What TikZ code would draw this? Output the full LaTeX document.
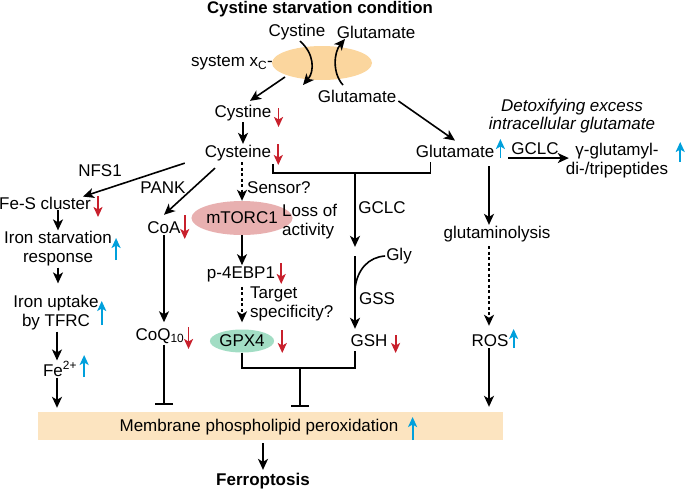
\documentclass[tikz,border=0pt]{standalone}
\usepackage{fontspec}
\setmainfont{Liberation Sans}
\usetikzlibrary{arrows.meta,positioning,calc,shapes.geometric}
\definecolor{XCorange}{RGB}{251,214,158}
\definecolor{MEMbeige}{RGB}{252,228,192}
\definecolor{TORpink}{RGB}{232,176,176}
\definecolor{GPXgreen}{RGB}{162,221,196}
\definecolor{DNred}{RGB}{200,32,44}
\definecolor{UPblue}{RGB}{0,160,220}

\begin{document}
\begin{tikzpicture}[x=1pt,y=-1pt,
    font=\fontsize{17}{19}\selectfont,
    every node/.style={inner sep=1pt},
    oval/.style={ellipse,inner sep=0pt},
    conn/.style={line width=1.6pt},
    arr/.style={conn,-{Stealth[length=11pt,width=10pt,inset=3pt]}},
    dotarr/.style={arr,dash pattern=on 3pt off 2.5pt},
    inh/.style={conn,-{Bar[width=18pt]}},
    dnar/.style={line width=1.8pt,DNred,-{Stealth[length=10pt,width=9pt,inset=2.5pt]}},
    upar/.style={dnar,UPblue}
  ]
  \useasboundingbox (0,0) rectangle (685,488);
  % column guides
  \coordinate (mcol) at (242,0);
  \coordinate (gcol) at (355,0);
  \coordinate (rcol) at (489,0);

  % antiporter
  \node[font=\fontsize{16.8}{20}\selectfont\bfseries] (title) at (320,9) {Cystine starvation condition};
  \node[oval,fill=XCorange,minimum width=100pt,minimum height=34pt] (xc) at (322,63) {};
  \node (sysxc) at (232,63) {system x\textsubscript{C}-};
  \node (cysout) at (297,32) {Cystine};
  \node (gluout) at (376,32) {Glutamate};
  \node (gluin) at (357,96) {Glutamate};
  \draw[arr] ($(cysout.south)+(3,0)$) .. controls +(14,12) and +(12,-14) .. ($(xc.center)+(-19,22)$);
  \draw[arr] ($(xc.center)+(21,22)$) .. controls +(-11,-12) and +(-11,13) .. ($(xc.center)+(23,-24)$);

  % main column
  \node (cystine) at (243,113) {Cystine};
  \node (cysteine) at (238,153) {Cysteine};
  \node[oval,fill=TORpink,minimum width=78pt,minimum height=34pt] (mtor) at (mcol |- 0,218) {mTORC1};
  \node[align=left,anchor=west] (loss) at (281,222) {Loss of\\activity};
  \node (p4) at (241,274) {p-4EBP1};
  \node[oval,fill=GPXgreen,minimum width=57pt,minimum height=23pt] (gpx) at (mcol |- 0,341) {GPX4};
  \node[anchor=west] (sensor) at (246,188) {Sensor?};
  \node[align=left,anchor=west] (target) at (249,304) {Target\\specificity?};

  % glutathione
  \node (gsh) at (369,341) {GSH};
  \node (gly) at (399,256) {Gly};
  \node (gclc) at (382,208) {GCLC};
  \node (gss) at (377,299) {GSS};

  % glutamate side
  \node (glu) at (455,151) {Glutamate};
  \node[align=center,font=\fontsize{17}{18}\selectfont\itshape] (detox) at (572,116) {Detoxifying excess\\intracellular glutamate};
  \node[align=center] (gglu) at (617,161) {γ-glutamyl-\\di-/tripeptides};
  \node (gclcR) at (535,149) {GCLC};
  \node (glnlys) at (497,234) {glutaminolysis};
  \node (ros) at (490,341) {ROS};

  % iron / CoA side
  \node (nfs) at (100,171) {NFS1};
  \node (pank) at (163,188) {PANK};
  \node (fes) at (45,203) {Fe-S cluster};
  \node[align=center] (starv) at (58,249) {Iron starvation\\response};
  \node[align=center] (uptake) at (56,313) {Iron uptake\\by TFRC};
  \node (fe) at (60,369) {Fe\textsuperscript{2+}};
  \node (coa) at (164,228) {CoA};
  \node (coq) at (160,336) {CoQ\textsubscript{10}};

  % bottom
  \node[fill=MEMbeige,minimum width=465pt,minimum height=28pt,inner sep=0pt] (memb) at (270.5,426) {};
  \node (membtxt) at (259,427) {Membrane phospholipid peroxidation};
  \node[font=\fontsize{17}{19}\selectfont\bfseries] (ferro) at (263,481) {Ferroptosis};

  % connectors
  \draw[arr] ($(xc.center)+(-37,14)$) -- ($(cystine.north)+(7,-3)$);
  \draw[arr] ($(gluin.east)+(1,5)$) -- ($(glu.north)+(0,-3)$);
  \draw[arr] (cystine.south) -- (cystine.south |- cysteine.north);
  \draw[arr] ($(cysteine.south west)+(-19,1)$) -- ($(fes.north east)+(-9,1)$);
  \draw[arr] ($(cysteine.south)+(-23,6)$) -- ($(coa.north)+(0,-6)$);
  \draw[dotarr] (mcol |- cysteine.south) -- (mtor.north);
  \draw[arr] (mtor.south) -- (mcol |- p4.north);
  \draw[dotarr,shorten <=4pt,shorten >=7pt] (mcol |- p4.south) -- (gpx.north);
  \coordinate (brL) at ($(cysteine.south east)+(1,2)$);
  \coordinate (brR) at ($(glu.south west)+(16,4)$);
  \draw[conn] (brL) -- ++(0,9) coordinate (brbar) -| (brR);
  \draw[arr] (gcol |- brbar) -- (gcol |- gly.north);
  \draw[arr,shorten >=5pt] (gcol |- gly.center) -- (gcol |- gsh.north);
  \draw[conn] (gly.west) .. controls +(-16,1) and +(2,-20) .. ($(gcol |- gly.center)+(0,33)$);
  \draw[conn] (gpx.south) -- ++(0,15) coordinate (gbar) -| ($(gcol |- gsh.south)+(0,3)$);
  \coordinate (jbot) at ($(gbar)+(58,0)$);
  \draw[inh,shorten >=5pt] (jbot) -- (jbot |- memb.north);

  \draw[arr] (starv.north |- fes.south) -- (starv.north);
  \draw[arr,shorten >=11pt] (starv.south) -- (starv.south |- uptake.north);
  \draw[arr] ($(uptake.south)+(1,0)$) -- ($(uptake.south |- fe.north)+(1,0)$);
  \draw[arr,shorten >=4pt] ($(fe.south)+(-3,0)$) -- ($(fe.south |- memb.north)+(-3,0)$);
  \draw[arr,shorten >=5pt] (coa.south) -- (coa.south |- coq.north);
  \draw[inh,shorten >=7pt] (coa.south |- coq.south) -- (coa.south |- memb.north);

  \draw[arr] ($(glu.base east)+(13,1)$) -- ($(glu.base east -| gglu.west)+(4,1)$);
  \draw[arr,shorten <=8pt] (rcol |- glu.south) -- (rcol |- glnlys.north);
  \draw[dotarr,shorten <=3pt,shorten >=8pt] (rcol |- glnlys.south) -- (rcol |- ros.north);
  \draw[arr,shorten >=5pt] (rcol |- ros.south) -- (rcol |- memb.north);
  \draw[arr,shorten <=3pt,shorten >=2pt] (memb.south -| ferro.north) -- (ferro.north);

  % up / down marks
  \draw[dnar] ($(cystine.east)+(6,-5)$) -- ++(0,19);
  \draw[dnar] ($(cysteine.east)+(6,-9)$) -- ++(0,21);
  \draw[dnar] ($(fes.east)+(6,-7)$) -- ++(0,21);
  \draw[upar] ($(starv.east)+(3,11)$) -- ++(0,-22);
  \draw[upar] ($(uptake.east)+(2,12)$) -- ++(0,-24);
  \draw[upar] ($(fe.east)+(6,8)$) -- ++(0,-22);
  \draw[dnar] ($(coa.east)+(3,-13)$) -- ++(0,24);
  \draw[dnar] ($(coq.east)+(3,-9)$) -- ++(0,22);
  \draw[dnar] ($(p4.east)+(5,-11)$) -- ++(0,21);
  \draw[dnar] ($(gpx.east)+(8,-11)$) -- ++(0,23);
  \draw[dnar] ($(gsh.east)+(7,-6)$) -- ++(0,18);
  \draw[upar] ($(glu.east)+(5,7)$) -- ++(0,-19);
  \draw[upar] ($(gglu.east)+(11,1)$) -- ++(0,-20);
  \draw[upar] ($(ros.east)+(4,7)$) -- ++(0,-19);
  \draw[upar] ($(membtxt.east)+(13,13)$) -- ++(0,-23);
\end{tikzpicture}
\end{document}
